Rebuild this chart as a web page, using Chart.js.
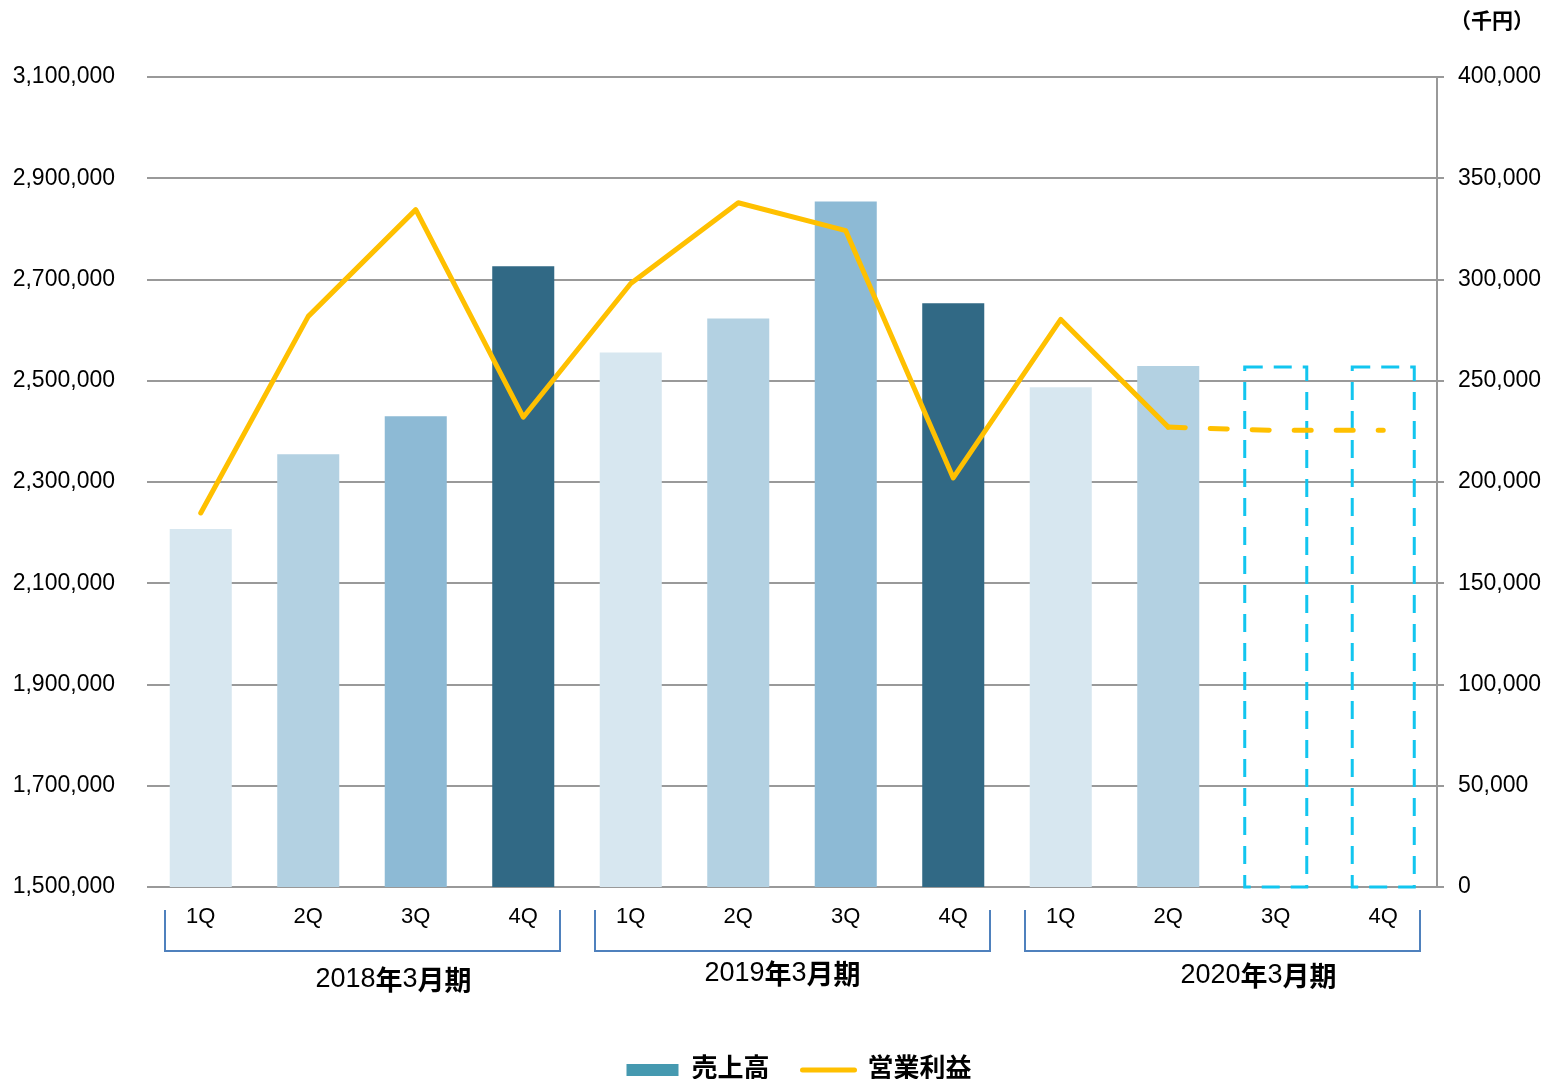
<!DOCTYPE html>
<html lang="ja">
<head>
<meta charset="utf-8">
<title>売上高・営業利益</title>
<script src="https://cdn.jsdelivr.net/npm/chart.js@4.4.1/dist/chart.umd.min.js"></script>
<style>
  html, body { margin: 0; padding: 0; background: #fff; overflow: hidden; }
  #wrap { width: 1564px; height: 1093px; }
</style>
</head>
<body>
<div id="wrap"><canvas id="salesChart"></canvas></div>
<script>
// 四半期ラベルと決算期
const quarters = ['1Q', '2Q', '3Q', '4Q', '1Q', '2Q', '3Q', '4Q', '1Q', '2Q', '3Q', '4Q'];
const periods = ['2018年3月期', '2019年3月期', '2020年3月期'];
// 売上高（千円） 実績と予想枠
const sales = [2207000, 2355000, 2430000, 2726000, 2556000, 2623000, 2854000, 2653000, 2487000, 2529000, null, null];
const salesForecast = [null, null, null, null, null, null, null, null, null, null, 2527000, 2527000];
// 営業利益（千円）
const profit = [184700, 281800, 334500, 232000, 298000, 337900, 324100, 202000, 280300, 227100, 225500, 225500];
// 軸の範囲
const salesAxis = [1500000, 3100000, 200000];
const profitAxis = [0, 400000, 50000];

const quarterColors = ['#d7e7f0', '#b3d1e2', '#8dbad5', '#316985'];
const gridGray = '#999999';

Chart.defaults.font.family = "'Liberation Sans', 'Noto Sans CJK JP', sans-serif";
Chart.defaults.color = '#000';
Chart.defaults.animation = false;

// 予想の点線枠
const forecastBoxes = {
    id: 'forecastBoxes',
    afterDatasetDraw(chart, args) {
        if (args.index !== 2) return;
        const ctx = chart.ctx;
        const bottom = chart.chartArea.bottom;
        ctx.save();
        ctx.strokeStyle = '#12c5ef';
        ctx.lineWidth = 3;
        ctx.setLineDash([18, 11]);
        args.meta.data.forEach((bar, i) => {
            if (salesForecast[i] == null) return;
            const p = bar.getProps(['x', 'y', 'base', 'width'], true);
            const base = Math.min(p.base, bottom);
            ctx.strokeRect(p.x - p.width / 2, p.y, p.width, base - p.y);
        });
        ctx.restore();
    }
};

// 文字列を数字（標準）と漢字（太字）に分けて描く
function drawMixed(ctx, text, cx, cy) {
    const runs = text.match(/\d+|\D+/g);
    const fontOf = s => /\d/.test(s) ? "27px 'Liberation Sans'" : "bold 27px 'Noto Sans CJK JP'";
    let total = 0;
    runs.forEach(s => { ctx.font = fontOf(s); total += ctx.measureText(s).width; });
    let x = cx - total / 2;
    ctx.textAlign = 'left';
    ctx.textBaseline = 'middle';
    runs.forEach(s => {
        ctx.font = fontOf(s);
        ctx.fillText(s, x, cy);
        x += ctx.measureText(s).width;
    });
}

// 決算期の括弧とラベル、単位
const periodAxis = {
    id: 'periodAxis',
    afterLayout(chart) {
        // 凡例を少し右へ
        chart.legend.left += 17;
        chart.legend.right += 17;
    },
    afterDraw(chart) {
        const ctx = chart.ctx;
        const x = chart.scales.x;
        const bottom = chart.chartArea.bottom;
        const shift = [[31, 93], [-10, 87], [36, 89]];
        ctx.save();
        periods.forEach((p, g) => {
            const l = Math.round(x.getPixelForValue(g * 4) - 36);
            const r = Math.round(x.getPixelForValue(g * 4 + 3) + 37);
            ctx.strokeStyle = '#4f81bd';
            ctx.lineWidth = 2;
            ctx.beginPath();
            ctx.moveTo(l, bottom + 23);
            ctx.lineTo(l, bottom + 64);
            ctx.lineTo(r, bottom + 64);
            ctx.lineTo(r, bottom + 23);
            ctx.stroke();
            ctx.fillStyle = '#000';
            drawMixed(ctx, p, (l + r) / 2 + shift[g][0], bottom + shift[g][1]);
        });
        ctx.font = "bold 21px 'Noto Sans CJK JP'";
        ctx.textAlign = 'center';
        ctx.textBaseline = 'middle';
        ctx.fillText('（千円）', 1492, 20);
        ctx.restore();
    }
};

const ctx = document.getElementById('salesChart').getContext('2d');
const chart = new Chart(ctx, {
    type: 'bar',
    data: {
        labels: quarters,
        datasets: [{
            type: 'line',
            label: '営業利益',
            data: profit,
            yAxisID: 'y1',
            borderColor: '#ffc000',
            backgroundColor: '#ffc000',
            borderWidth: 5,
            borderCapStyle: 'round',
            borderJoinStyle: 'round',
            pointRadius: 0,
            tension: 0,
            order: 0,
            segment: {
                borderDash: c => c.p0DataIndex >= 9 ? [17, 25] : undefined
            }
        }, {
            label: '売上高',
            data: sales,
            yAxisID: 'y',
            backgroundColor: quarters.map((q, i) => quarterColors[i % 4]),
            grouped: false,
            barPercentage: 0.577,
            categoryPercentage: 1,
            order: 1
        }, {
            label: '売上高（予想）',
            data: salesForecast,
            yAxisID: 'y',
            backgroundColor: 'rgba(0,0,0,0)',
            grouped: false,
            barPercentage: 0.577,
            categoryPercentage: 1,
            order: 1
        }]
    },
    options: {
        responsive: true,
        maintainAspectRatio: false,
        layout: { padding: { top: 77, left: 0, right: 0, bottom: 0 } },
        plugins: {
            tooltip: { enabled: false },
            legend: {
                position: 'bottom',
                labels: {
                    usePointStyle: true,
                    pointStyleWidth: 52,
                    boxHeight: 12,
                    padding: 33,
                    color: '#000',
                    font: { size: 26, weight: 'bold' },
                    generateLabels: () => [
                        { text: '売上高', fillStyle: '#4599b0', strokeStyle: '#4599b0', lineWidth: 0, pointStyle: 'rect', datasetIndex: 1, hidden: false },
                        { text: '営業利益', fillStyle: '#ffc000', strokeStyle: '#ffc000', lineWidth: 5, lineCap: 'round', pointStyle: 'line', datasetIndex: 0, hidden: false }
                    ]
                }
            }
        },
        scales: {
            x: {
                grid: { display: false },
                border: { display: false },
                ticks: { font: { size: 22 }, padding: 9, maxRotation: 0, autoSkip: false, color: '#000' },
                afterFit: s => { s.height = 137; }
            },
            y: {
                position: 'left',
                min: salesAxis[0],
                max: salesAxis[1],
                ticks: {
                    stepSize: salesAxis[2],
                    font: { size: 23 },
                    padding: 32,
                    color: '#000',
                    callback: v => v.toLocaleString('en-US')
                },
                grid: { color: gridGray, lineWidth: 2, drawTicks: false },
                border: { display: false },
                afterFit: s => { s.width = 147; }
            },
            y1: {
                position: 'right',
                min: profitAxis[0],
                max: profitAxis[1],
                ticks: {
                    stepSize: profitAxis[2],
                    font: { size: 23 },
                    padding: 14,
                    color: '#000',
                    callback: v => v.toLocaleString('en-US')
                },
                grid: { drawOnChartArea: false, drawTicks: true, tickLength: 7, color: gridGray, lineWidth: 2 },
                border: { display: true, color: gridGray, width: 2 },
                afterFit: s => { s.width = 127; }
            }
        }
    },
    plugins: [forecastBoxes, periodAxis]
});
</script>
</body>
</html>
